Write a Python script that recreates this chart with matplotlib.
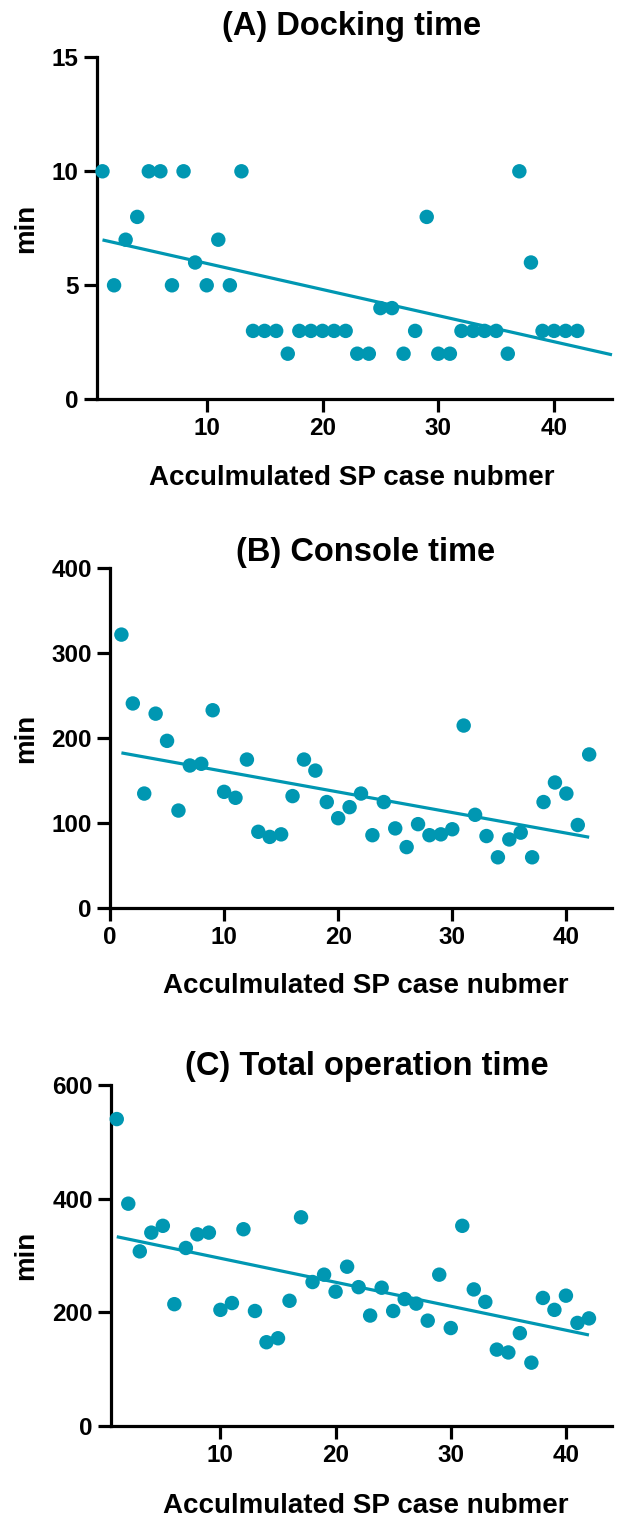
import numpy as np
import matplotlib
matplotlib.use("Agg")
import matplotlib.pyplot as plt

# Data (x = accumulated case number 1..42)
caseNo = list(range(1, 43))
dockingTime = [10, 5, 7, 8, 10, 10, 5, 10, 6, 5, 7, 5, 10, 3, 3, 3, 2, 3, 3, 3, 3,
               3, 2, 2, 4, 4, 2, 3, 8, 2, 2, 3, 3, 3, 3, 2, 10, 6, 3, 3, 3, 3]
consoleTime = [322, 241, 135, 229, 197, 115, 168, 170, 233, 137, 130, 175, 90, 84,
               87, 132, 175, 162, 125, 106, 119, 135, 86, 125, 94, 72, 99, 86, 87,
               93, 215, 110, 85, 60, 81, 89, 60, 125, 148, 135, 98, 181]
totalTime = [540, 391, 307, 340, 352, 214, 313, 337, 340, 204, 216, 346, 202, 147,
             154, 220, 367, 253, 266, 236, 280, 244, 194, 243, 202, 223, 215, 185,
             266, 172, 352, 240, 218, 134, 129, 163, 111, 225, 204, 229, 181, 189]

titles = ["(A) Docking time", "(B) Console time", "(C) Total operation time"]
yTicks = [[0, 5, 10, 15], [0, 100, 200, 300, 400], [0, 200, 400, 600]]
xTicks = [[10, 20, 30, 40], [0, 10, 20, 30, 40], [10, 20, 30, 40]]
xLabel = "Acculmulated SP case nubmer"
yLabel = "min"

TEAL = "#0097B2"
W, H = 617, 1517

plt.rcParams["font.family"] = ["Liberation Sans", "DejaVu Sans"]
plt.rcParams["font.weight"] = "bold"

fig = plt.figure(figsize=(W / 100, H / 100), dpi=100)

# panel boxes in pixels: left, right, top, bottom
boxes = [(96.7, 612, 57.3, 399.3), (110, 612, 568.3, 908.3), (111, 612, 1085, 1425.7)]
xLims = [(0.5, 45), (0, 44), (0.5, 44)]
lineEnd = [45, 42, 42]
titlePos = [(352, 35), (366, 561.5), (367, 1075)]
xLabelPos = [(352, 485), (366, 993), (366, 1513)]


def px(x, y):
    # pixel coords -> figure fraction
    return x / W, 1 - y / H


for i, yVals in enumerate([dockingTime, consoleTime, totalTime]):
    l, r, t, b = boxes[i]
    ax = fig.add_axes([l / W, 1 - b / H, (r - l) / W, (b - t) / H])
    ax.scatter(caseNo, yVals, s=108, color=TEAL, edgecolors="none",
               zorder=3, clip_on=False)
    # linear regression line
    slope, icpt = np.polyfit(caseNo, yVals, 1)
    xs = np.array([caseNo[0], lineEnd[i]])
    ax.plot(xs, icpt + slope * xs, color=TEAL, lw=2.3, zorder=2,
            solid_capstyle="butt", clip_on=False)

    ax.set_xlim(*xLims[i])
    ax.set_ylim(yTicks[i][0], yTicks[i][-1])
    ax.set_xticks(xTicks[i])
    ax.set_yticks(yTicks[i])
    for s in ["top", "right"]:
        ax.spines[s].set_visible(False)
    for s in ["left", "bottom"]:
        ax.spines[s].set_linewidth(2.3)
    ax.tick_params(width=2.3, length=9.5, labelsize=17.5, pad=3.5)
    for lab in ax.get_xticklabels() + ax.get_yticklabels():
        lab.set_fontweight("bold")

    fig.text(*px(*titlePos[i]), titles[i], fontsize=23.5, fontweight="bold",
             ha="center", va="baseline")
    fig.text(*px(*xLabelPos[i]), xLabel, fontsize=20, fontweight="bold",
             ha="center", va="baseline")
    fig.text(*px(39, (t + b) / 2), yLabel, fontsize=20, fontweight="bold",
             rotation=90, ha="right", va="center")

fig.savefig("out.png", dpi=100)
plt.close(fig)
